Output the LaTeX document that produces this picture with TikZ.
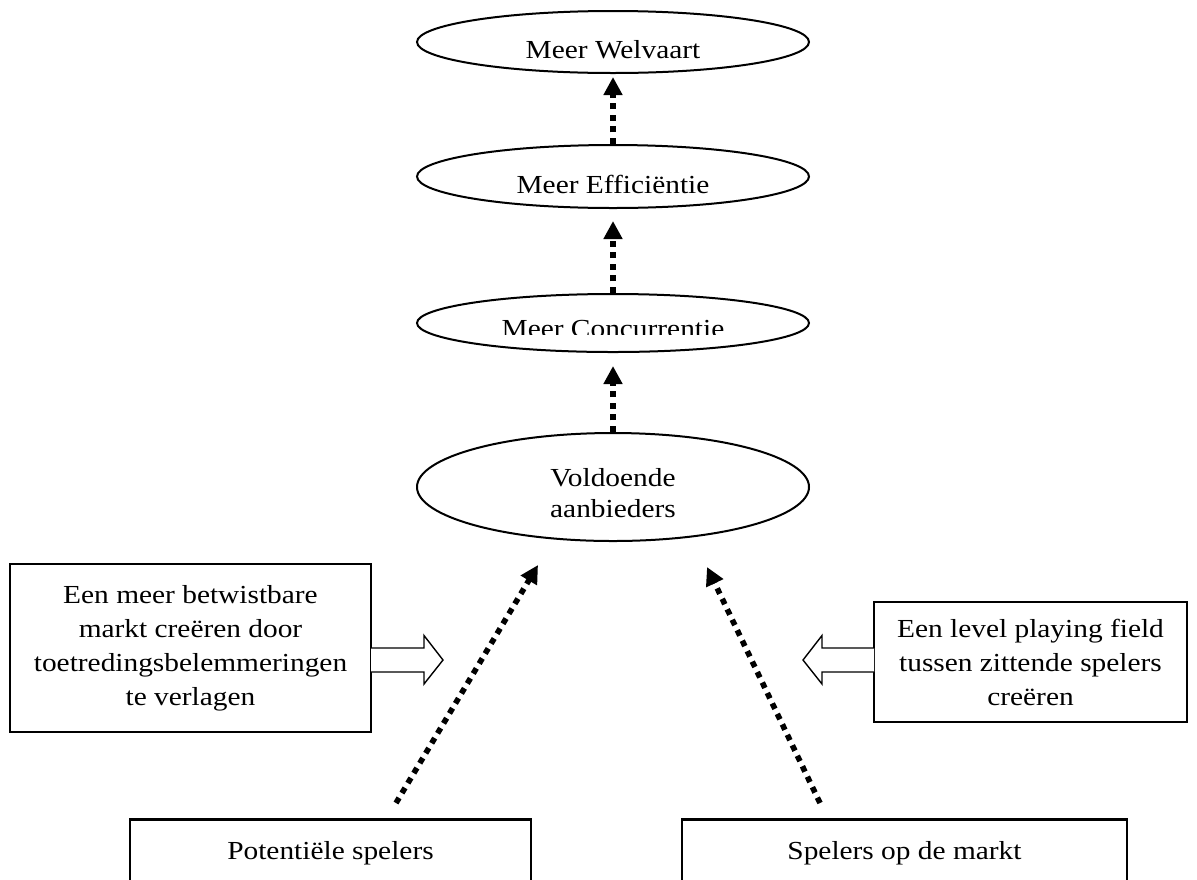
\documentclass[tikz,border=0pt]{standalone}
\usepackage{fontspec}
\setmainfont[FakeStretch=1.13]{Liberation Serif}
\usetikzlibrary{shapes.geometric,arrows.meta}
\begin{document}
\begin{tikzpicture}[x=0.5pt,y=-0.5pt,
  every node/.style={font=\fontsize{13}{17}\selectfont},
  ell/.style={draw, ellipse, line width=1pt, inner sep=0pt, minimum width=196pt},
  box/.style={draw, line width=1.3pt, inner sep=0pt, align=center},
  dotarrow/.style={line width=2.8pt, dash pattern=on 3pt off 2.8pt, -{Triangle[length=9pt,width=9pt]}},
  hollow/.style={draw, line width=0.7pt, fill=white, line join=miter},
]
\useasboundingbox (0,0) rectangle (1197,879);
\clip (0,0) rectangle (1197,879);

% ellipses
\node[ell, minimum height=31pt] (welv) at (613,42) {};
\node[ell, minimum height=31.5pt] (eff) at (613,176.5) {};
\node[ell, minimum height=29pt] (conc) at (613,323) {};
\node[ell, minimum height=54pt] (vold) at (613,487) {};

\node[anchor=base] (welvt) at (613,58) {Meer Welvaart};
\node[anchor=base] (efft) at (613,193) {Meer Efficiëntie};
\begin{scope}
  \clip (400,290) rectangle (830,334.5);
  \node[anchor=base] (conct) at (613,337) {Meer Concurrentie};
\end{scope}
\node[align=center] (voldt) at (613,493) {Voldoende\\[-1.5pt]aanbieders};

% vertical dotted arrows
\draw[dotarrow] (eff.north) -- ([yshift=-1.5pt]welv.south);
\draw[dotarrow] (conc.north) -- ([yshift=-6pt]eff.south);
\draw[dotarrow] (vold.north) -- ([yshift=-6.5pt]conc.south);

% side boxes
\node[box, minimum width=180.5pt, minimum height=84pt] (lbox) at (190.5,648)
  {Een meer betwistbare\\markt creëren door\\toetredingsbelemmeringen\\te verlagen};
\node[box, minimum width=156.5pt, minimum height=60pt] (rbox) at (1030.5,662)
  {Een level playing field\\tussen zittende spelers\\creëren};

% bottom boxes (bottom edge outside the picture)
\node[box, anchor=north, minimum width=200.5pt, text height=20pt, text depth=40pt] (pot) at (330.5,818) {Potentiële spelers};
\node[box, anchor=north, minimum width=222.5pt, text height=20pt, text depth=40pt] (spm) at (904.5,818) {Spelers op de markt};

% hollow arrows
\coordinate (la) at (371,660);
\draw[hollow] ([yshift=6pt]la) -- ++(53,0) -- ++(0,-12.5) -- (443,660) -- (424,684) -- (424,672) -- ([yshift=-6pt]la);
\coordinate (ra) at (874,660);
\draw[hollow] ([yshift=6pt]ra) -- ++(-52,0) -- ++(0,-12.5) -- (803,660) -- (822,684) -- (822,672) -- ([yshift=-6pt]ra);

% diagonal dotted arrows
\coordinate (p1) at (396,803);
\coordinate (v1) at (538,565);
\coordinate (p2) at (820,803);
\coordinate (v2) at (707,567);
\draw[dotarrow] (p1) -- (v1);
\draw[dotarrow] (p2) -- (v2);
\end{tikzpicture}
\end{document}
